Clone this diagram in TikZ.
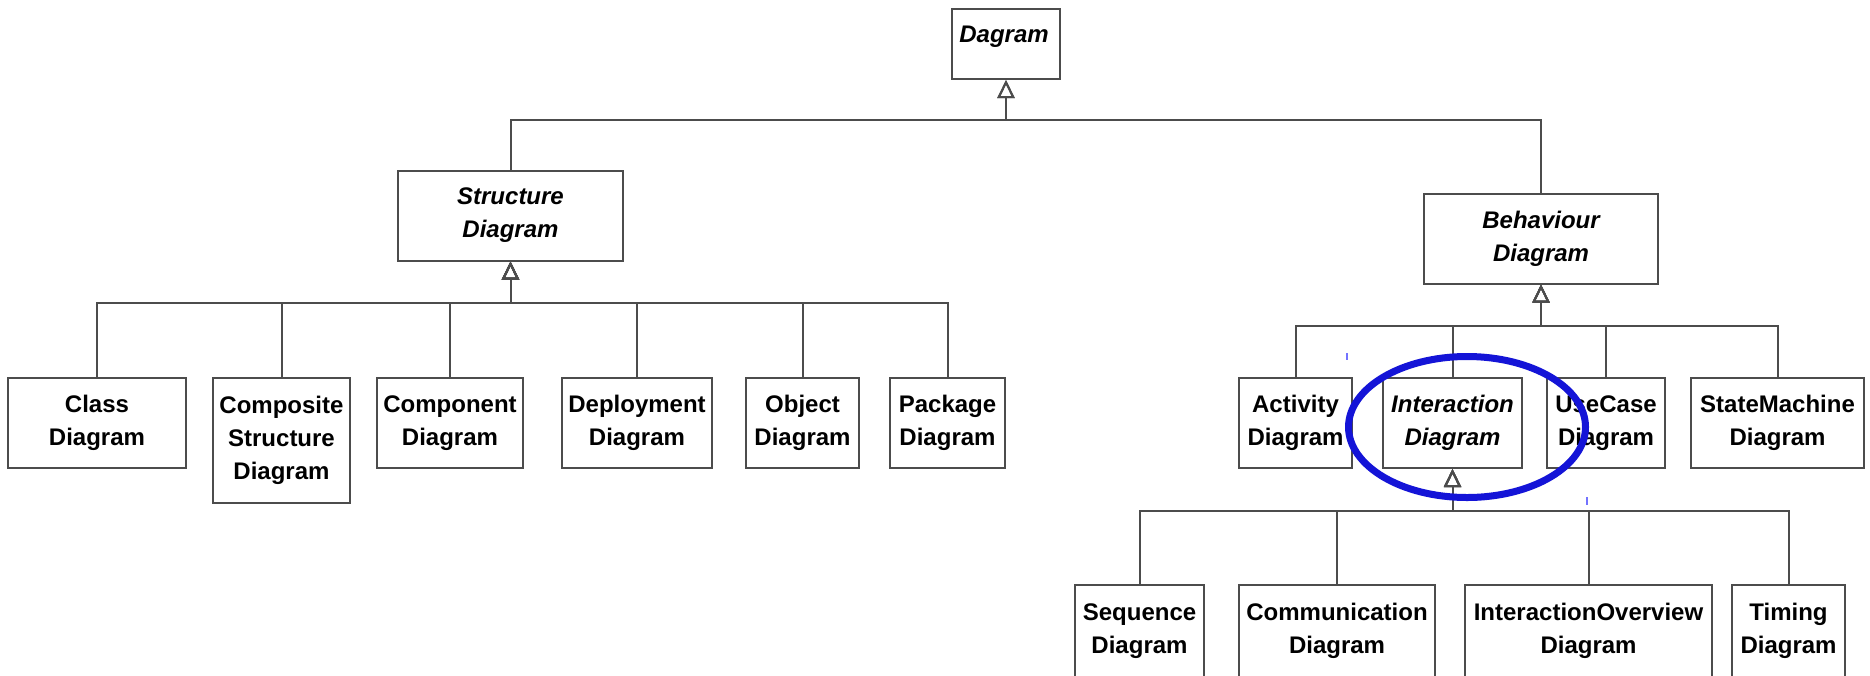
\documentclass[tikz,border=0pt]{standalone}
\usepackage{fontspec}
\setmainfont{Liberation Sans}
\usetikzlibrary{arrows.meta}
\tikzset{every picture/.style={line width=2pt}}
\tikzset{umlbox/.style={rectangle, draw=black!70, inner sep=1pt, minimum height=90, align=center, font=\fontsize{24}{33}\selectfont\bfseries}}
\tikzset{abstract/.style={umlbox, font=\fontsize{24}{33}\selectfont\bfseries\itshape}}
\tikzset{gen/.style={draw=black!70, -{Triangle[open, length=18pt, width=17pt]}}}
\tikzset{marker/.style={draw={rgb,255:red,20;green,20;blue,215}, line width=7pt}}
\newcommand{\inherit}[3]{\draw[gen] (#1.north) |- (#2) -- (#3.south);}

\begin{document}
\begin{tikzpicture}[x=1pt, y=-1pt]
        \path[fill=white, use as bounding box] (0,0) rectangle (1870,675);
        \clip (0,0) rectangle (1870,675);
        \node[umlbox, minimum width=108, minimum height=70] (dagram) at (1006,44) {};
        \node[abstract, draw=none, minimum height=0, anchor=base] (dagramname) at (1004,42) {Dagram};
        \node[abstract, minimum width=225] (structure) at (510.5,215.5) {Structure\\Diagram};
        \node[abstract, minimum width=234] (behaviour) at (1541,238.5) {Behaviour\\Diagram};
        \node[umlbox, minimum width=178] (class) at (97,423) {Class\\Diagram};
        \node[umlbox, minimum width=137, minimum height=125] (composite) at (281.5,440.5) {Composite\\Structure\\Diagram};
        \node[umlbox, minimum width=146] (component) at (450,423) {Component\\Diagram};
        \node[umlbox, minimum width=150] (deployment) at (637,423) {Deployment\\Diagram};
        \node[umlbox, minimum width=113] (object) at (802.5,423) {Object\\Diagram};
        \node[umlbox, minimum width=115] (package) at (947.5,423) {Package\\Diagram};
        \node[umlbox, minimum width=113] (activity) at (1295.5,423) {Activity\\Diagram};
        \node[abstract, minimum width=139] (interaction) at (1452.5,423) {Interaction\\Diagram};
        \node[umlbox, minimum width=118] (usecase) at (1606,423) {UseCase\\Diagram};
        \node[umlbox, minimum width=173] (statemachine) at (1777.5,423) {StateMachine\\Diagram};
        \node[umlbox, minimum width=129, minimum height=92] (sequence) at (1139.5,631) {Sequence\\Diagram};
        \node[umlbox, minimum width=196, minimum height=92] (communication) at (1337,631) {Communication\\Diagram};
        \node[umlbox, minimum width=247, minimum height=92] (overview) at (1588.5,631) {InteractionOverview\\Diagram};
        \node[umlbox, minimum width=113, minimum height=92] (timing) at (1788.5,631) {Timing\\Diagram};
        \coordinate (topbus) at ([yshift=-40pt]dagram.south);
        \coordinate (structbus) at ([yshift=-41pt]structure.south);
        \coordinate (behavbus) at ([yshift=-41pt]behaviour.south);
        \coordinate (interbus) at ([yshift=-42pt]interaction.south);
        \inherit{structure}{topbus}{dagram}
        \inherit{behaviour}{topbus}{dagram}
        \inherit{class}{structbus}{structure}
        \inherit{composite}{structbus}{structure}
        \inherit{component}{structbus}{structure}
        \inherit{deployment}{structbus}{structure}
        \inherit{object}{structbus}{structure}
        \inherit{package}{structbus}{structure}
        \inherit{activity}{behavbus}{behaviour}
        \inherit{interaction}{behavbus}{behaviour}
        \inherit{usecase}{behavbus}{behaviour}
        \inherit{statemachine}{behavbus}{behaviour}
        \inherit{sequence}{interbus}{interaction}
        \inherit{communication}{interbus}{interaction}
        \inherit{overview}{interbus}{interaction}
        \inherit{timing}{interbus}{interaction}
        \draw[marker] (1467,427) ellipse [x radius=118.5, y radius=70.5];
        \draw[blue!55, line width=1.5pt] (1347,353) -- (1347,360);
        \draw[blue!55, line width=1.5pt] (1587,497) -- (1587,505);
    \end{tikzpicture}
\end{document}
